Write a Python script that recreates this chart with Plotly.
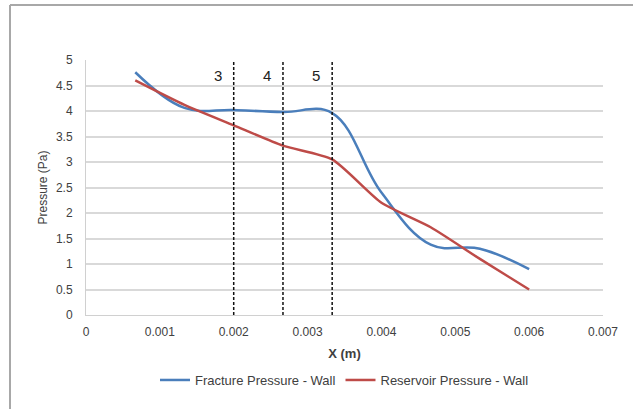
import plotly.graph_objects as go

# Sample positions along the wall (m)
x_pos = [0.000667, 0.001333, 0.002, 0.002667, 0.003333, 0.004, 0.004667, 0.005333, 0.006]
fracture_p = [4.76, 4.06, 4.02, 3.98, 3.96, 2.40, 1.38, 1.30, 0.90]
reservoir_p = [4.60, 4.12, 3.72, 3.32, 3.05, 2.20, 1.72, 1.10, 0.50]

# Zone boundaries and their labels
zone_x = [0.002, 0.002667, 0.003333]
zone_labels = ["3", "4", "5"]

y_ticks = [0, 0.5, 1, 1.5, 2, 2.5, 3, 3.5, 4, 4.5, 5]
y_tick_text = ["0", "0.5", "1", "1.5", "2", "2.5", "3", "3.5", "4", "4.5", "5"]
x_ticks = [0, 0.001, 0.002, 0.003, 0.004, 0.005, 0.006, 0.007]
x_tick_text = ["0", "0.001", "0.002", "0.003", "0.004", "0.005", "0.006", "0.007"]

BLUE = "#4a7ebb"
RED = "#be4b48"
TXT = "#404040"
FONT = "Liberation Sans Narrow, Liberation Sans, sans-serif"

fig = go.Figure()
fig.add_trace(go.Scatter(
    x=x_pos, y=fracture_p, mode="lines", name="Fracture Pressure - Wall",
    line=dict(color=BLUE, width=2.5, shape="spline", smoothing=1.1),
))
fig.add_trace(go.Scatter(
    x=x_pos, y=reservoir_p, mode="lines", name="Reservoir Pressure - Wall",
    line=dict(color=RED, width=2.5, shape="spline", smoothing=0.6),
))

shapes = []
for zx in zone_x:
    shapes.append(dict(type="line", xref="x", yref="y", x0=zx, x1=zx, y0=0, y1=4.96,
                       line=dict(color="#111111", width=1.5, dash="3px,2px")))
# outer frame (top and left edges)
shapes.append(dict(type="line", xref="paper", yref="paper", x0=-0.147, x1=1.2,
                   y0=1.216, y1=1.216, line=dict(color="#a8a8a8", width=2)))
shapes.append(dict(type="line", xref="paper", yref="paper", x0=-0.147, x1=-0.147,
                   y0=1.216, y1=-0.45, line=dict(color="#a8a8a8", width=2)))

annotations = []
for zx, lab in zip(zone_x, zone_labels):
    annotations.append(dict(x=zx, y=4.7, xref="x", yref="y", text=lab, showarrow=False,
                            xanchor="right", xshift=-10,
                            font=dict(size=15, color="#222222", family=FONT)))

fig.update_layout(
    width=633, height=409,
    margin=dict(l=86, r=30, t=60, b=94),
    paper_bgcolor="white", plot_bgcolor="white",
    font=dict(family=FONT, color=TXT, size=12),
    shapes=shapes, annotations=annotations,
    showlegend=True,
    legend=dict(orientation="h", x=0.5, xanchor="center", y=-0.255, yanchor="middle",
                font=dict(size=13, color=TXT), itemwidth=30, tracegroupgap=0),
    xaxis=dict(range=[0, 0.007], tickvals=x_ticks, ticktext=x_tick_text,
               showgrid=False, zeroline=False, showline=True, linecolor="#d0d0d0",
               linewidth=1, ticks="", tickfont=dict(size=12, color=TXT),
               ticklabelstandoff=6,
               title=dict(text="<b>X (m)</b>", font=dict(size=13, color=TXT), standoff=10)),
    yaxis=dict(range=[0, 5], tickvals=y_ticks, ticktext=y_tick_text,
               showgrid=True, gridcolor="#d9d9d9", gridwidth=1.5, zeroline=False,
               showline=True, linecolor="#d0d0d0", linewidth=1, ticks="",
               tickfont=dict(size=12, color=TXT), ticklabelstandoff=10,
               title=dict(text="Pressure (Pa)", font=dict(size=12, color=TXT), standoff=5)),
)

fig.write_html("out.html")
